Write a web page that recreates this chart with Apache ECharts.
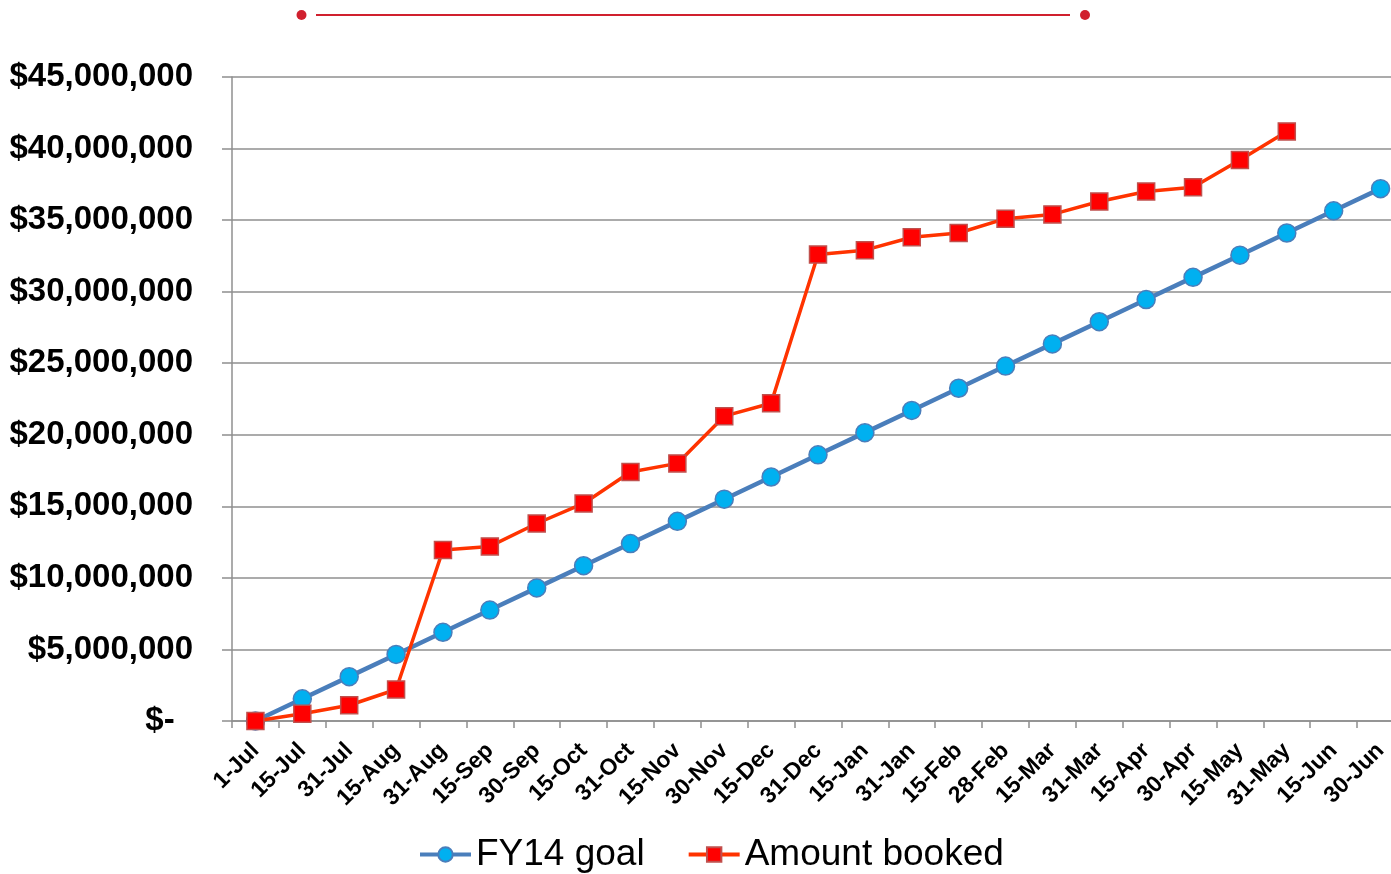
<!DOCTYPE html>
<html>
<head>
<meta charset="utf-8">
<script src="https://cdn.jsdelivr.net/npm/echarts@6/dist/echarts.min.js"></script>
<style>
html,body{margin:0;padding:0;background:#fff;}
#chart{width:1391px;height:874px;}
</style>
</head>
<body>
<div id="chart"></div>
<script>
var categories = ['1-Jul','15-Jul','31-Jul','15-Aug','31-Aug','15-Sep','30-Sep','15-Oct','31-Oct','15-Nov','30-Nov','15-Dec','31-Dec','15-Jan','31-Jan','15-Feb','28-Feb','15-Mar','31-Mar','15-Apr','30-Apr','15-May','31-May','15-Jun','30-Jun'];
var goalValues = [0, 1550000, 3100000, 4650000, 6200000, 7750000, 9300000, 10850000, 12400000, 13950000, 15500000, 17050000, 18600000, 20150000, 21700000, 23250000, 24800000, 26350000, 27900000, 29450000, 31000000, 32550000, 34100000, 35650000, 37200000];
var bookedValues = [0, 500000, 1100000, 2200000, 11950000, 12200000, 13800000, 15200000, 17400000, 18000000, 21300000, 22200000, 32600000, 32900000, 33800000, 34100000, 35100000, 35400000, 36300000, 37000000, 37300000, 39200000, 41200000, null, null];
var seriesNames = ['FY14 goal', 'Amount booked'];
var yMin = 0, yMax = 45000000, yInterval = 5000000;

var chart = echarts.init(document.getElementById('chart'));
var font = '"Liberation Sans", Arial, sans-serif';
var gray = '#8f8f8f';
chart.setOption({
  animation: false,
  textStyle: {fontFamily: font},
  grid: {left: 232, width: 1172, top: 77, bottom: 153, containLabel: false, outerBoundsMode: 'none'},
  graphic: [
    {type: 'line', shape: {x1: 316, y1: 15, x2: 1070, y2: 15}, style: {stroke: '#D0202E', lineWidth: 2}},
    {type: 'circle', shape: {cx: 301.5, cy: 15, r: 5}, style: {fill: '#D0202E'}},
    {type: 'circle', shape: {cx: 1085, cy: 15, r: 5}, style: {fill: '#D0202E'}}
  ],
  legend: {
    left: 413, bottom: -4,
    itemWidth: 51, itemHeight: 18, itemGap: 42,
    lineStyle: {width: 4},
    textStyle: {fontSize: 37, color: '#000', fontFamily: font},
    data: seriesNames
  },
  xAxis: {
    type: 'category',
    data: categories,
    boundaryGap: true,
    axisLine: {lineStyle: {color: gray, width: 1.5}},
    axisTick: {show: true, interval: 0, length: 7, lineStyle: {color: gray, width: 1.5}},
    axisLabel: {interval: 0, rotate: 45, margin: 26, verticalAlign: 'middle', fontSize: 23, fontWeight: 'bold', color: '#000', fontFamily: font},
    splitLine: {show: false}
  },
  yAxis: {
    type: 'value',
    min: yMin, max: yMax, interval: yInterval,
    axisLine: {show: true, lineStyle: {color: gray, width: 1.5}},
    axisTick: {show: true, length: 10, lineStyle: {color: gray, width: 1.5}},
    splitLine: {show: true, lineStyle: {color: gray, width: 1.5}},
    axisLabel: {
      margin: 39, fontSize: 33, fontWeight: 'bold', color: '#000', fontFamily: font,
      formatter: function (v) { return v === 0 ? '$-  ' : '$' + v.toLocaleString('en-US'); }
    }
  },
  series: [
    {
      name: seriesNames[0], type: 'line', data: goalValues,
      symbol: 'circle', symbolSize: 18,
      lineStyle: {color: '#4A7EBB', width: 4.5},
      itemStyle: {color: '#00B0F0', borderColor: '#4A7EBB', borderWidth: 1.5},
      z: 2
    },
    {
      name: seriesNames[1], type: 'line', data: bookedValues,
      symbol: 'rect', symbolSize: 17,
      lineStyle: {color: '#FF3300', width: 3.5},
      itemStyle: {color: '#FF0000', borderColor: '#C0504D', borderWidth: 1.5},
      z: 3
    }
  ]
});
</script>
</body>
</html>
